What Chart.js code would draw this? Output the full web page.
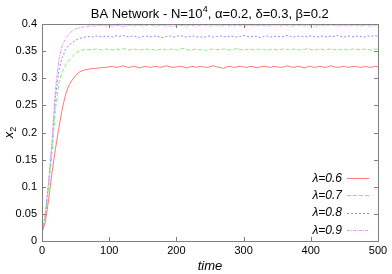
<!DOCTYPE html>
<html>
<head>
<meta charset="utf-8">
<script src="https://cdn.jsdelivr.net/npm/chart.js@4/dist/chart.umd.min.js"></script>
<style>
  html, body { margin: 0; padding: 0; background: #fff; }
  #wrap { width: 392px; height: 274px; }
</style>
</head>
<body>
<div id="wrap"><canvas id="chart" width="392" height="274"></canvas></div>
<script>
const times = [
  0, 5, 10, 15, 20, 25, 30, 35, 40, 45, 50, 55, 60, 65, 70, 75, 80, 85, 90, 95,
  100, 105, 110, 115, 120, 125, 130, 135, 140, 145, 150, 155, 160, 165, 170, 175, 180, 185, 190, 195,
  200, 205, 210, 215, 220, 225, 230, 235, 240, 245, 250, 255, 260, 265, 270, 275, 280, 285, 290, 295,
  300, 305, 310, 315, 320, 325, 330, 335, 340, 345, 350, 355, 360, 365, 370, 375, 380, 385, 390, 395,
  400, 405, 410, 415, 420, 425, 430, 435, 440, 445, 450, 455, 460, 465, 470, 475, 480, 485, 490, 495,
  500
];

const lambda06 = [
  0.015, 0.035, 0.078, 0.127, 0.170, 0.208, 0.243, 0.270, 0.287, 0.297, 0.305, 0.311, 0.314, 0.316, 0.317, 0.318, 0.318, 0.319, 0.320, 0.320,
  0.321,
  0.322, 0.320, 0.321, 0.323, 0.321, 0.320, 0.322, 0.321, 0.319, 0.321,
  0.322, 0.320, 0.321, 0.322, 0.320, 0.321, 0.323, 0.321, 0.320, 0.321,
  0.322, 0.321, 0.319, 0.321, 0.322, 0.320, 0.322, 0.321, 0.320, 0.321,
  0.323, 0.321, 0.320, 0.318, 0.321, 0.322, 0.320, 0.321, 0.322, 0.321,
  0.320, 0.322, 0.321, 0.319, 0.321, 0.322, 0.321, 0.320, 0.322, 0.321,
  0.320, 0.321, 0.323, 0.321, 0.320, 0.322, 0.321, 0.319, 0.321, 0.322,
  0.320, 0.321, 0.322, 0.320, 0.321, 0.323, 0.321, 0.320, 0.321, 0.322,
  0.320, 0.321, 0.322, 0.321, 0.320, 0.322, 0.321, 0.320, 0.322, 0.321
];

const lambda07 = [
  0.015, 0.045, 0.100, 0.165, 0.243, 0.290, 0.312, 0.324, 0.333, 0.340, 0.346, 0.350, 0.352, 0.353, 0.353, 0.352, 0.354, 0.353, 0.352, 0.354,
  0.353,
  0.352, 0.354, 0.353, 0.355, 0.353, 0.352, 0.354, 0.353, 0.352, 0.353,
  0.354, 0.352, 0.353, 0.351, 0.353, 0.354, 0.352, 0.353, 0.354, 0.352,
  0.353, 0.355, 0.353, 0.352, 0.353, 0.354, 0.352, 0.353, 0.351, 0.353,
  0.354, 0.353, 0.352, 0.354, 0.353, 0.352, 0.353, 0.355, 0.353, 0.352,
  0.353, 0.354, 0.352, 0.353, 0.354, 0.353, 0.351, 0.353, 0.354, 0.352,
  0.353, 0.354, 0.353, 0.352, 0.354, 0.353, 0.352, 0.353, 0.355, 0.353,
  0.352, 0.353, 0.354, 0.352, 0.353, 0.354, 0.353, 0.352, 0.353, 0.354,
  0.352, 0.353, 0.354, 0.353, 0.352, 0.354, 0.353, 0.352, 0.354, 0.353
];

const lambda08 = [
  0.015, 0.050, 0.108, 0.180, 0.265, 0.315, 0.338, 0.353, 0.361, 0.366, 0.370, 0.373, 0.375, 0.376, 0.377, 0.376, 0.378, 0.377, 0.376, 0.378,
  0.377,
  0.376, 0.378, 0.377, 0.379, 0.377, 0.376, 0.378, 0.377, 0.375, 0.377,
  0.378, 0.376, 0.377, 0.378, 0.376, 0.375, 0.377, 0.378, 0.376, 0.377,
  0.379, 0.377, 0.376, 0.377, 0.378, 0.376, 0.377, 0.375, 0.377, 0.378,
  0.376, 0.377, 0.378, 0.377, 0.376, 0.378, 0.377, 0.376, 0.377, 0.379,
  0.377, 0.376, 0.378, 0.377, 0.375, 0.377, 0.378, 0.376, 0.377, 0.378,
  0.376, 0.377, 0.379, 0.377, 0.376, 0.377, 0.378, 0.376, 0.377, 0.378,
  0.377, 0.376, 0.378, 0.377, 0.376, 0.378, 0.377, 0.379, 0.377, 0.376,
  0.378, 0.377, 0.376, 0.378, 0.377, 0.376, 0.378, 0.377, 0.379, 0.377
];

const lambda09 = [
  0.015, 0.050, 0.110, 0.185, 0.280, 0.333, 0.360, 0.373, 0.382, 0.387, 0.391, 0.393, 0.394, 0.395, 0.396, 0.397, 0.396, 0.397, 0.398, 0.396,
  0.397,
  0.396, 0.398, 0.397, 0.395, 0.397, 0.398, 0.396, 0.397, 0.398, 0.396,
  0.397, 0.399, 0.397, 0.396, 0.397, 0.398, 0.396, 0.397, 0.395, 0.397,
  0.398, 0.397, 0.396, 0.398, 0.397, 0.396, 0.397, 0.399, 0.397, 0.396,
  0.397, 0.398, 0.396, 0.397, 0.398, 0.397, 0.396, 0.398, 0.397, 0.395,
  0.397, 0.398, 0.396, 0.397, 0.398, 0.397, 0.396, 0.397, 0.399, 0.397,
  0.396, 0.398, 0.397, 0.396, 0.397, 0.398, 0.397, 0.396, 0.398, 0.397,
  0.396, 0.397, 0.398, 0.396, 0.397, 0.399, 0.397, 0.396, 0.397, 0.398,
  0.396, 0.397, 0.398, 0.397, 0.396, 0.398, 0.397, 0.396, 0.398, 0.397
];

const seriesLabels = ["λ=0.6", "λ=0.7", "λ=0.8", "λ=0.9"];
const xTicks = [0, 100, 200, 300, 400, 500];
const yTicks = [0, 0.05, 0.1, 0.15, 0.2, 0.25, 0.3, 0.35, 0.4];

const FONT = "'Liberation Sans', Arial, Helvetica, sans-serif";

const styles = [
  { color: "rgb(255,120,120)", dash: [] },
  { color: "rgb(125,240,125)", dash: [4, 2] },
  { color: "rgb(135,135,255)", dash: [2, 2] },
  { color: "rgb(255,140,255)", dash: [3, 1, 1, 1] }
];

const toPoints = vals => times.map((t, i) => ({ x: t, y: vals[i] }));

// frame, inward ticks, title, axis titles and legend, gnuplot style
const decorations = {
  id: "decorations",
  afterDraw(chart) {
    const ctx = chart.ctx;
    const { left, right, top, bottom } = chart.chartArea;
    const xs = chart.scales.x, ys = chart.scales.y;
    ctx.save();

    ctx.strokeStyle = "#7f7f7f";
    ctx.lineWidth = 1;
    ctx.setLineDash([]);
    ctx.strokeRect(Math.round(left) + 0.5, Math.round(top) + 0.5, Math.round(right - left), Math.round(bottom - top));

    ctx.beginPath();
    for (const v of xTicks) {
      const px = Math.round(xs.getPixelForValue(v)) + 0.5;
      ctx.moveTo(px, bottom); ctx.lineTo(px, bottom - 4);
      ctx.moveTo(px, top); ctx.lineTo(px, top + 4);
    }
    for (const v of yTicks) {
      const py = Math.round(ys.getPixelForValue(v)) + 0.5;
      ctx.moveTo(left, py); ctx.lineTo(left + 4, py);
      ctx.moveTo(right, py); ctx.lineTo(right - 4, py);
    }
    ctx.stroke();

    // title with superscript
    ctx.fillStyle = "#000";
    ctx.textBaseline = "alphabetic";
    ctx.textAlign = "left";
    const big = "13px " + FONT, small = "9px " + FONT;
    const p1 = "BA Network - N=10", p2 = "4", p3 = ", α=0.2, δ=0.3, β=0.2";
    ctx.font = big;
    const w1 = ctx.measureText(p1).width, w3 = ctx.measureText(p3).width;
    ctx.font = small;
    const w2 = ctx.measureText(p2).width;
    let tx = 209.5 - (w1 + w2 + w3) / 2;
    const ty = 18;
    ctx.font = big; ctx.fillText(p1, tx, ty); tx += w1;
    ctx.font = small; ctx.fillText(p2, tx + 0.5, ty - 6); tx += w2 + 0.5;
    ctx.font = big; ctx.fillText(p3, tx, ty);

    // x title
    ctx.font = "italic 13px " + FONT;
    ctx.textAlign = "center";
    ctx.textBaseline = "middle";
    ctx.fillText("time", (left + right) / 2, 266);

    // y title x_2
    ctx.save();
    ctx.translate(9, (top + bottom) / 2);
    ctx.rotate(-Math.PI / 2);
    ctx.textAlign = "left";
    ctx.textBaseline = "alphabetic";
    ctx.font = "italic 13px " + FONT;
    const wx = ctx.measureText("x").width;
    ctx.font = "9px " + FONT;
    const ws = ctx.measureText("2").width;
    const sx = -(wx + ws) / 2;
    ctx.font = "italic 13px " + FONT;
    ctx.fillText("x", sx, 4);
    ctx.font = "9px " + FONT;
    ctx.fillText("2", sx + wx, 7);
    ctx.restore();

    // legend
    const legendY = [178, 195, 212.5, 230];
    ctx.font = "italic 12px " + FONT;
    ctx.textAlign = "right";
    ctx.textBaseline = "middle";
    chart.data.datasets.forEach((ds, i) => {
      const y = legendY[i];
      ctx.fillStyle = "#000";
      ctx.fillText(ds.label, 342, y + 0.5);
      ctx.strokeStyle = ds.borderColor;
      ctx.setLineDash(ds.borderDash || []);
      ctx.beginPath();
      ctx.moveTo(347, Math.round(y) + 0.5);
      ctx.lineTo(369, Math.round(y) + 0.5);
      ctx.stroke();
    });
    ctx.restore();
  }
};

new Chart(document.getElementById("chart"), {
  type: "line",
  data: {
    datasets: [lambda06, lambda07, lambda08, lambda09].map((vals, i) => ({
      label: seriesLabels[i],
      data: toPoints(vals),
      borderColor: styles[i].color,
      borderDash: styles[i].dash,
      borderWidth: 1,
      pointRadius: 0,
      tension: 0,
      fill: false
    }))
  },
  options: {
    responsive: false,
    animation: false,
    devicePixelRatio: 1,
    layout: { padding: { top: 24, right: 14, left: 0, bottom: 0 } },
    plugins: {
      legend: { display: false },
      title: { display: false },
      tooltip: { enabled: false }
    },
    scales: {
      x: {
        type: "linear",
        min: 0,
        max: 500,
        afterFit: s => { s.height = 33; },
        afterBuildTicks: s => { s.ticks = xTicks.map(v => ({ value: v })); },
        grid: { display: false, drawTicks: false },
        border: { display: false },
        ticks: { color: "#000", padding: 3, font: { family: FONT, size: 11 }, maxRotation: 0 }
      },
      y: {
        min: 0,
        max: 0.4,
        afterFit: s => { s.width = 42; },
        afterBuildTicks: s => { s.ticks = yTicks.map(v => ({ value: v })); },
        grid: { display: false, drawTicks: false },
        border: { display: false },
        ticks: { color: "#000", padding: 5, font: { family: FONT, size: 11 }, callback: v => String(v) }
      }
    }
  },
  plugins: [decorations]
});
</script>
</body>
</html>
